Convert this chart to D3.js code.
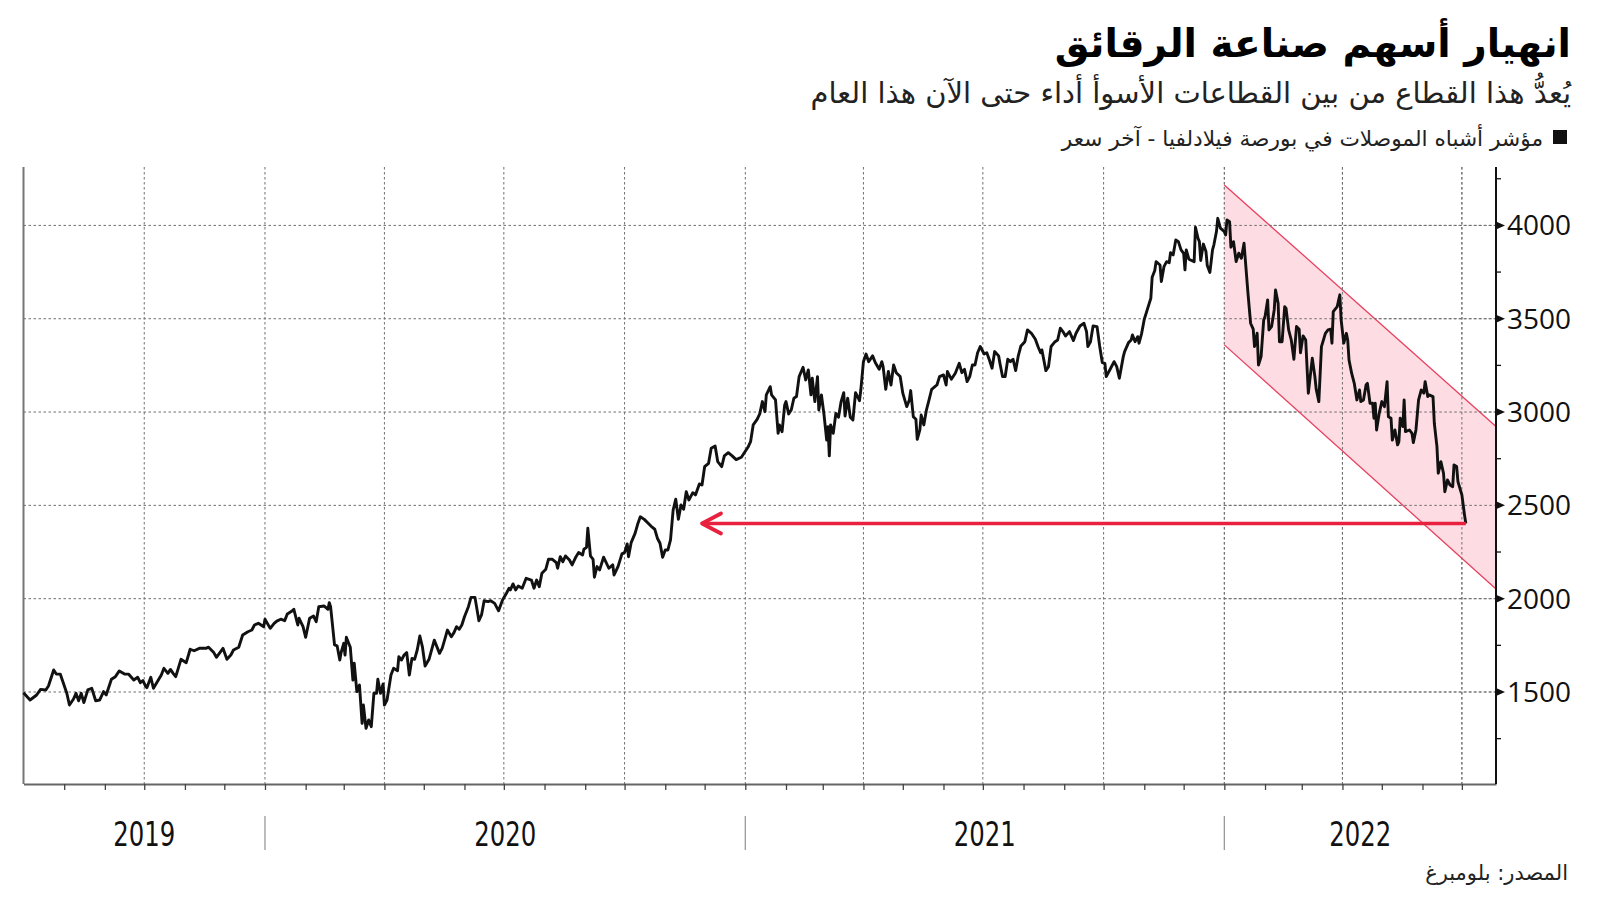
<!DOCTYPE html>
<html>
<head>
<meta charset="utf-8">
<script src="https://cdn.jsdelivr.net/npm/d3@7"></script>
<style>
  body { margin: 0; background: #fff; }
  svg { display: block; }
</style>
</head>
<body>
<div id="chart"></div>
<script>
// PHLX Semiconductor index
// dayOffsets = days since 1 Jul 2019, closeValues = index level
const dayOffsets = [
  0, 5, 10, 13, 17, 19, 23, 25, 28, 33,
  35, 38, 40, 42, 44, 46, 49, 52, 55, 58,
  61, 63, 67, 70, 73, 77, 80, 84, 87, 89,
  91, 93, 94, 97, 99, 105, 107, 110, 112, 114,
  116, 120, 124, 127, 130, 134, 139, 141, 145, 147,
  152, 155, 158, 160, 164, 167, 171, 174, 176, 179,
  183, 184, 188, 191, 193, 196, 199, 201, 204, 206,
  209, 210, 213, 215, 218, 221, 223, 225, 229, 232,
  233, 234, 237, 239, 241, 242, 244, 245, 246, 249,
  251, 252, 254, 256, 258, 259, 261, 263, 265, 267,
  269, 270, 272, 274, 275, 277, 280, 282, 285, 286,
  288, 290, 292, 294, 296, 298, 300, 302, 304, 306,
  309, 313, 317, 319, 321, 323, 326, 328, 330, 332,
  334, 336, 339, 341, 344, 347, 349, 351, 354, 356,
  359, 362, 365, 368, 370, 371, 373, 375, 377, 380,
  383, 387, 389, 391, 393, 395, 398, 400, 403, 406,
  407, 409, 411, 413, 416, 418, 421, 423, 426, 427,
  429, 430, 432, 434, 435, 437, 439, 442, 444, 446,
  449, 450, 453, 456, 458, 460, 461, 463, 466, 468,
  470, 473, 476, 479, 481, 483, 485, 487, 489, 491,
  493, 495, 497, 499, 501, 503, 505, 507, 510, 512,
  515, 517, 519, 522, 524, 527, 529, 532, 534, 537,
  540, 543, 547, 549, 552, 554, 556, 559, 561, 563,
  565, 566, 569, 570, 573, 575, 576, 578, 580, 581,
  583, 585, 587, 589, 591, 594, 596, 598, 600, 601,
  603, 605, 606, 608, 610, 612, 613, 614, 615, 617,
  619, 621, 623, 625, 626, 628, 630, 632, 634, 637,
  638, 640, 642, 644, 647, 649, 652, 654, 655, 657,
  659, 661, 663, 665, 668, 670, 673, 675, 676, 678,
  680, 681, 683, 684, 686, 688, 690, 692, 696, 698,
  701, 703, 704, 707, 710, 713, 715, 717, 719, 721,
  723, 725, 727, 729, 732, 734, 736, 738, 740, 743,
  744, 746, 748, 750, 752, 754, 756, 758, 760, 763,
  765, 768, 771, 773, 775, 776, 779, 781, 783, 786,
  788, 790, 792, 794, 797, 800, 802, 805, 808, 810,
  811, 813, 815, 818, 820, 822, 824, 825, 828, 831,
  833, 835, 838, 839, 842, 844, 845, 847, 849, 850,
  852, 854, 857, 859, 860, 862, 863, 866, 867, 869,
  871, 873, 874, 876, 878, 880, 882, 884, 885, 886,
  888, 892, 893, 895, 896, 897, 899, 901, 902, 904,
  906, 907, 909, 910, 912, 915, 916, 917, 919, 920,
  922, 924, 926, 928, 930, 931, 933, 935, 937, 938,
  940, 941, 943, 945, 946, 948, 949, 951, 953, 954,
  956, 957, 959, 961, 962, 964, 966, 968, 970, 972,
  973, 975, 977, 979, 982, 984, 985, 987, 989, 992,
  994, 996, 997, 998, 1001, 1003, 1004, 1006, 1008, 1009,
  1010, 1012, 1014, 1016, 1018, 1019, 1021, 1023, 1024, 1026,
  1028, 1029, 1030, 1031, 1033, 1035, 1037, 1039, 1040, 1042,
  1043, 1045, 1047, 1048, 1049, 1051, 1052, 1053, 1056, 1058,
  1059, 1061, 1063, 1065, 1067, 1068, 1070, 1071, 1074, 1075,
  1077, 1078, 1080, 1082, 1083, 1085, 1087, 1089, 1090, 1092,
  1093, 1096, 1098, 1099
];
const closeValues = [
  1496, 1457, 1484, 1514, 1511, 1532, 1618, 1596, 1596, 1493,
  1430, 1461, 1493, 1453, 1493, 1443, 1511, 1520, 1453, 1457,
  1502, 1484, 1568, 1582, 1613, 1596, 1596, 1564, 1579, 1550,
  1561, 1532, 1523, 1579, 1520, 1591, 1627, 1600, 1621, 1600,
  1582, 1675, 1657, 1729, 1721, 1734, 1734, 1740, 1711, 1686,
  1734, 1675, 1698, 1725, 1740, 1805, 1823, 1832, 1859, 1868,
  1850, 1890, 1841, 1868, 1880, 1890, 1882, 1918, 1931, 1943,
  1859, 1895, 1850, 1793, 1895, 1907, 1877, 1957, 1961, 1943,
  1979, 1957, 1752, 1747, 1671, 1711, 1761, 1698, 1793, 1740,
  1564, 1654, 1502, 1537, 1332, 1430, 1305, 1350, 1314, 1493,
  1493, 1568, 1493, 1543, 1430, 1457, 1591, 1627, 1614, 1689,
  1671, 1698, 1711, 1591, 1680, 1675, 1725, 1800, 1740, 1639,
  1675, 1778, 1707, 1734, 1782, 1832, 1796, 1818, 1850, 1836,
  1859, 1903, 1957, 2007, 2007, 1882, 1913, 1989, 1984, 1989,
  1975, 1935, 1993, 2029, 2056, 2047, 2079, 2047, 2068, 2056,
  2109, 2100, 2056, 2100, 2064, 2136, 2158, 2211, 2211, 2193,
  2163, 2225, 2198, 2229, 2207, 2181, 2225, 2247, 2234, 2265,
  2275, 2377, 2229, 2211, 2115, 2172, 2154, 2222, 2193, 2163,
  2181, 2127, 2172, 2240, 2247, 2293, 2225, 2300, 2350, 2400,
  2439, 2425, 2404, 2383, 2372, 2324, 2297, 2222, 2261, 2261,
  2315, 2475, 2533, 2425, 2502, 2479, 2573, 2529, 2568, 2556,
  2615, 2609, 2707, 2725, 2806, 2818, 2734, 2707, 2765, 2782,
  2765, 2745, 2758, 2779, 2811, 2841, 2931, 2961, 2990, 3056,
  3002, 3092, 3136, 3092, 3065, 2886, 2931, 2895, 3038, 3056,
  2990, 3011, 3074, 3083, 3190, 3240, 3172, 3226, 3092, 3181,
  3056, 3190, 3011, 3092, 2984, 2850, 2922, 2765, 2931, 2886,
  2993, 2972, 3056, 3104, 2979, 3074, 2972, 2958, 3104, 3061,
  3118, 3270, 3311, 3270, 3301, 3265, 3229, 3270, 3243, 3122,
  3217, 3145, 3252, 3211, 3190, 3101, 3029, 3065, 3115, 2975,
  2961, 2854, 2904, 2984, 2931, 3011, 3065, 3122, 3145, 3190,
  3199, 3145, 3217, 3176, 3208, 3261, 3211, 3229, 3163, 3190,
  3252, 3252, 3318, 3351, 3311, 3318, 3279, 3235, 3324, 3301,
  3261, 3190, 3190, 3283, 3270, 3283, 3222, 3301, 3354, 3377,
  3440, 3422, 3390, 3351, 3318, 3333, 3222, 3243, 3351, 3377,
  3386, 3449, 3431, 3408, 3431, 3383, 3422, 3461, 3476, 3431,
  3351, 3377, 3461, 3458, 3354, 3265, 3261, 3190, 3229, 3270,
  3243, 3181, 3297, 3324, 3372, 3386, 3413, 3377, 3404, 3369,
  3422, 3497, 3565, 3610, 3722, 3758, 3806, 3788, 3699, 3779,
  3806, 3800, 3854, 3842, 3922, 3913, 3869, 3850, 3762, 3869,
  3819, 3806, 3990, 3930, 3913, 3812, 3900, 3860, 3785, 3748,
  3869, 3895, 3967, 4038, 3985, 3967, 3949, 4029, 4020, 3883,
  3913, 3806, 3851, 3824, 3905, 3815, 3637, 3476, 3444, 3351,
  3422, 3252, 3297, 3494, 3511, 3601, 3440, 3458, 3547, 3654,
  3583, 3377, 3377, 3565, 3556, 3440, 3386, 3283, 3458, 3444,
  3318, 3408, 3386, 3101, 3288, 3190, 3122, 3056, 3351, 3422,
  3440, 3444, 3369, 3538, 3565, 3628, 3494, 3369, 3422, 3386,
  3279, 3208, 3154, 3065, 3118, 3056, 3065, 3145, 3154, 3047,
  3047, 2967, 3047, 2904, 2993, 3056, 3029, 3163, 2975, 2967,
  2850, 2904, 2824, 2841, 2967, 2922, 3065, 2895, 2904, 2886,
  2836, 2904, 3065, 3118, 3101, 3163, 3083, 3092, 3083, 2940,
  2815, 2672, 2734, 2672, 2573, 2636, 2609, 2600, 2717, 2708,
  2627, 2556, 2449, 2403
];

// downward channel drawn over 2022
const channelDates = ["2022-01-01", "2022-07-27"];
const channelUpper = [4217, 2923];
const channelLower = [3360, 2052];

// arrow back to the level of late Nov 2020
const arrowTargetDate = "2020-11-29";

const yMajorTicks = [1500, 2000, 2500, 3000, 3500, 4000];
const yMinorTicks = [1250, 1750, 2250, 2750, 3250, 3750, 4250];
const yearLabels = ["2019", "2020", "2021", "2022"];

const titleText = "انهيار أسهم صناعة الرقائق";
const subtitleText = "يُعدُّ هذا القطاع من بين القطاعات الأسوأ أداء حتى الآن هذا العام";
const legendText = "مؤشر أشباه الموصلات في بورصة فيلادلفيا - آخر سعر";
const sourceText = "المصدر: بلومبرغ";

const width = 1600, height = 901;
const plot = { left: 23.5, right: 1496, top: 167, bottom: 784 };

const parseDate = d3.timeParse("%Y-%m-%d");
const start = new Date(2019, 6, 1);
const end = new Date(2022, 6, 27);

const series = dayOffsets.map((d, i) => ({ date: d3.timeDay.offset(start, d), value: closeValues[i] }));

const svg = d3.select("#chart")
  .append("svg")
  .attr("width", width)
  .attr("height", height);

const x = d3.scaleTime().domain([start, end]).range([plot.left, plot.right]);
const y = d3.scaleLinear().domain([1007, 4313]).range([plot.bottom, plot.top]);

const gridColor = "#6f6f6f";

// horizontal grid
svg.append("g")
  .selectAll("line")
  .data(yMajorTicks)
  .join("line")
  .attr("x1", plot.left).attr("x2", plot.right)
  .attr("y1", d => y(d)).attr("y2", d => y(d))
  .attr("stroke", gridColor)
  .attr("stroke-width", 1)
  .attr("stroke-dasharray", "2.5,2.5");

// quarterly vertical grid
const quarters = d3.timeMonth.every(3).range(new Date(2019, 9, 1), new Date(2022, 6, 2));
svg.append("g")
  .selectAll("line")
  .data(quarters)
  .join("line")
  .attr("x1", d => x(d)).attr("x2", d => x(d))
  .attr("y1", plot.top).attr("y2", plot.bottom)
  .attr("stroke", gridColor)
  .attr("stroke-width", 1)
  .attr("stroke-dasharray", "2.5,2.5");

// channel band
const channel = channelDates.map((d, i) => ({ date: parseDate(d), hi: channelUpper[i], lo: channelLower[i] }));
svg.append("path")
  .datum(channel)
  .attr("fill", "#fddde3")
  .attr("d", d3.area().x(d => x(d.date)).y0(d => y(d.lo)).y1(d => y(d.hi)));

["hi", "lo"].forEach(k => {
  svg.append("path")
    .datum(channel)
    .attr("fill", "none")
    .attr("stroke", "#e8405e")
    .attr("stroke-width", 1.3)
    .attr("d", d3.line().x(d => x(d.date)).y(d => y(d[k])));
});

// grid shows through the band in the source
svg.append("g")
  .selectAll("line")
  .data(yMajorTicks)
  .join("line")
  .attr("x1", x(parseDate(channelDates[0]))).attr("x2", plot.right)
  .attr("y1", d => y(d)).attr("y2", d => y(d))
  .attr("stroke", gridColor)
  .attr("stroke-width", 1)
  .attr("stroke-dasharray", "2.5,2.5");
svg.append("g")
  .selectAll("line")
  .data(quarters.filter(d => d >= parseDate(channelDates[0])))
  .join("line")
  .attr("x1", d => x(d)).attr("x2", d => x(d))
  .attr("y1", plot.top).attr("y2", plot.bottom)
  .attr("stroke", gridColor)
  .attr("stroke-width", 1)
  .attr("stroke-dasharray", "2.5,2.5");

// left and bottom axes
svg.append("line")
  .attr("x1", plot.left).attr("x2", plot.left)
  .attr("y1", plot.top).attr("y2", plot.bottom)
  .attr("stroke", "#777")
  .attr("stroke-width", 2);

const xAxis = svg.append("g")
  .attr("transform", `translate(0,${plot.bottom})`)
  .call(d3.axisBottom(x)
    .ticks(d3.timeMonth.every(1))
    .tickFormat("")
    .tickSizeInner(6)
    .tickSizeOuter(0));
xAxis.select(".domain").attr("stroke", "#666").attr("stroke-width", 2);
xAxis.selectAll(".tick line").attr("stroke", "#444").attr("stroke-width", 1.3);
xAxis.selectAll(".tick").filter(d => +d === +start).remove();

// year labels with separators
const yearBounds = [start, new Date(2020, 0, 1), new Date(2021, 0, 1), new Date(2022, 0, 1), end];
svg.append("g")
  .selectAll("line")
  .data(yearBounds.slice(1, 4))
  .join("line")
  .attr("x1", d => x(d)).attr("x2", d => x(d))
  .attr("y1", 816).attr("y2", 850)
  .attr("stroke", "#999")
  .attr("stroke-width", 1.3);

svg.append("g")
  .selectAll("text")
  .data(yearLabels)
  .join("text")
  .attr("x", (d, i) => (x(yearBounds[i]) + x(yearBounds[i + 1])) / 2)
  .attr("y", 846)
  .attr("text-anchor", "middle")
  .attr("font-family", "'Liberation Sans Narrow', 'DejaVu Sans Condensed', sans-serif")
  .attr("font-size", 33)
  .attr("textLength", 62)
  .attr("lengthAdjust", "spacingAndGlyphs")
  .attr("fill", "#111")
  .text(d => d);

// right axis
svg.append("line")
  .attr("x1", plot.right).attr("x2", plot.right)
  .attr("y1", plot.top).attr("y2", plot.bottom)
  .attr("stroke", "#111")
  .attr("stroke-width", 2);

svg.append("g")
  .selectAll("line")
  .data(yMinorTicks)
  .join("line")
  .attr("x1", plot.right).attr("x2", plot.right + 5)
  .attr("y1", d => y(d)).attr("y2", d => y(d))
  .attr("stroke", "#111")
  .attr("stroke-width", 1.3);

svg.append("g")
  .selectAll("path")
  .data(yMajorTicks)
  .join("path")
  .attr("d", d => `M${plot.right},${y(d) - 4}L${plot.right + 9},${y(d)}L${plot.right},${y(d) + 4}Z`)
  .attr("fill", "#111");

svg.append("g")
  .selectAll("text")
  .data(yMajorTicks)
  .join("text")
  .attr("x", plot.right + 11)
  .attr("y", d => y(d))
  .attr("dy", "0.36em")
  .attr("font-family", "'Open Sans', 'Noto Sans', sans-serif")
  .attr("font-size", 28)
  .attr("fill", "#111")
  .text(d => d);

// index line
svg.append("path")
  .datum(series)
  .attr("fill", "none")
  .attr("stroke", "#111")
  .attr("stroke-width", 2.9)
  .attr("stroke-linejoin", "round")
  .attr("d", d3.line().x(d => x(d.date)).y(d => y(d.value)));

// red arrow from the last close back to the same level
const last = series[series.length - 1];
const arrowY = y(last.value);
const tipX = x(parseDate(arrowTargetDate));
svg.append("line")
  .attr("x1", x(last.date)).attr("x2", tipX + 2)
  .attr("y1", arrowY).attr("y2", arrowY)
  .attr("stroke", "#e8213f")
  .attr("stroke-width", 3.5);
svg.append("path")
  .attr("d", `M${tipX + 19},${arrowY - 10}L${tipX},${arrowY}L${tipX + 19},${arrowY + 10}`)
  .attr("fill", "none")
  .attr("stroke", "#e8213f")
  .attr("stroke-width", 3.8)
  .attr("stroke-linecap", "round")
  .attr("stroke-linejoin", "round");

// titles
const arabicFont = "'DejaVu Sans', 'Noto Sans', sans-serif";
svg.append("text")
  .attr("x", 1571).attr("y", 57)
  .attr("direction", "rtl").attr("text-anchor", "start")
  .attr("font-family", arabicFont)
  .attr("font-weight", "bold")
  .attr("font-size", 39)
  .attr("fill", "#000")
  .text(titleText);

svg.append("text")
  .attr("x", 1571).attr("y", 103)
  .attr("direction", "rtl").attr("text-anchor", "start")
  .attr("font-family", arabicFont)
  .attr("font-size", 29)
  .attr("fill", "#222")
  .text(subtitleText);

svg.append("rect")
  .attr("x", 1553).attr("y", 130)
  .attr("width", 14).attr("height", 14)
  .attr("fill", "#111");

svg.append("text")
  .attr("x", 1543).attr("y", 146)
  .attr("direction", "rtl").attr("text-anchor", "start")
  .attr("font-family", arabicFont)
  .attr("font-size", 21.7)
  .attr("fill", "#222")
  .text(legendText);

svg.append("text")
  .attr("x", 1568).attr("y", 880)
  .attr("direction", "rtl").attr("text-anchor", "start")
  .attr("font-family", arabicFont)
  .attr("font-size", 21)
  .attr("fill", "#222")
  .text(sourceText);
</script>
</body>
</html>
